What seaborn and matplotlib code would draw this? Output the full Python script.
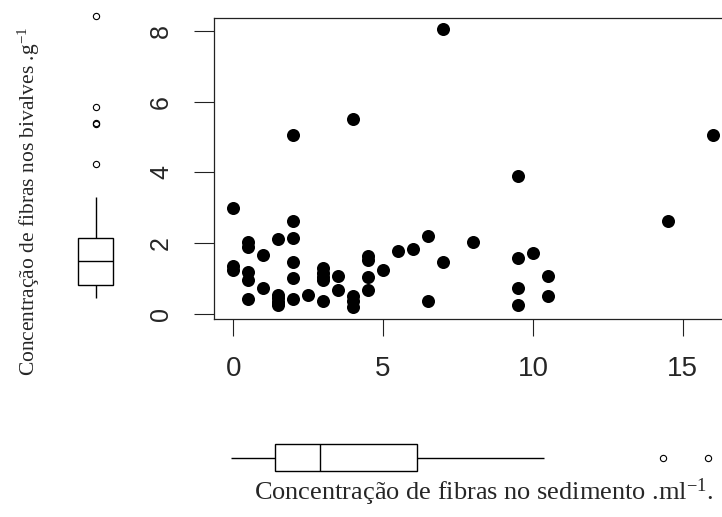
import matplotlib
matplotlib.use("Agg")
import matplotlib.pyplot as plt
import pandas as pd
import seaborn as sns

# Fibre concentration in sediment (per ml) and in bivalves (per g), paired samples
sedimento = [0, 0, 0,
             0.5, 0.5, 0.5, 0.5, 0.5,
             1, 1,
             1.5, 1.5, 1.5, 1.5, 1.5, 1.5,
             2, 2, 2, 2, 2, 2,
             2.5,
             3, 3, 3, 3, 3,
             3.5, 3.5,
             4, 4, 4, 4,
             4.5, 4.5, 4.5, 4.5,
             5, 5.5, 6,
             6.5, 6.5,
             7, 7,
             8,
             9.5, 9.5, 9.5, 9.5,
             10,
             10.5, 10.5,
             14.5, 16]
bivalves = [3.0, 1.35, 1.25,
            2.05, 1.9, 1.2, 0.95, 0.42,
            1.67, 0.75,
            2.12, 0.55, 0.45, 0.35, 0.3, 0.25,
            5.05, 2.62, 2.16, 1.46, 1.02, 0.42,
            0.53,
            1.3, 1.15, 1.05, 0.95, 0.38,
            1.08, 0.68,
            5.5, 0.52, 0.38, 0.19,
            1.65, 1.53, 1.04, 0.68,
            1.25, 1.79, 1.83,
            2.22, 0.38,
            8.05, 1.47,
            2.03,
            3.91, 1.58, 0.74, 0.27,
            1.72,
            1.08, 0.52,
            2.62, 5.06]
x_ticks = [0, 5, 10, 15]
y_ticks = [0, 2, 4, 6, 8]
x_label = r"Concentração de fibras no sedimento .ml$^{-1}$."
y_label = r"Concentração de fibras nos bivalves .g$^{-1}$"

sns.set_style("white")
plt.rcParams.update({
    "font.family": ["Liberation Sans", "DejaVu Sans"],
    "mathtext.default": "regular",
})

df = pd.DataFrame({"sed": sedimento, "biv": bivalves})

W, H = 722, 517
fig = plt.figure(figsize=(W / 100, H / 100), dpi=100)


def rect(left, top, right, bottom):
    return [left / W, 1 - bottom / H, (right - left) / W, (bottom - top) / H]


def padded(values):
    lo, hi = min(values), max(values)
    p = 0.04 * (hi - lo)
    return lo - p, hi + p


# main scatter
ax = fig.add_axes(rect(214, 18, 732, 318.5))
sns.scatterplot(data=df, x="sed", y="biv", color="black", s=88,
                linewidth=0, ax=ax)
ax.set_xlim(padded(sedimento))
ax.set_ylim(padded(bivalves))
ax.set_xticks(x_ticks)
ax.set_yticks(y_ticks)
ax.set_xlabel("")
ax.set_ylabel("")
ax.tick_params(axis="x", bottom=True, length=12.2, width=0.8, pad=15,
               labelsize=20, direction="out", color="#222222")
ax.tick_params(axis="y", left=True, length=14.4, width=0.8, pad=15,
               labelsize=18, labelrotation=90, direction="out",
               color="#222222")
for t in ax.get_yticklabels():
    t.set_va("center")
for s in ax.spines.values():
    s.set_linewidth(0.9)
    s.set_color("#222222")

box_kw = dict(color="white", linecolor="black", linewidth=1.0,
              showcaps=False, fliersize=4.5,
              flierprops=dict(marker="o", markerfacecolor="none",
                              markeredgecolor="black", markeredgewidth=0.8))

# marginal boxplot of the bivalve concentration
axy = fig.add_axes(rect(60, 4.9, 131, 308.9))
sns.boxplot(y=bivalves, ax=axy, width=0.5, **box_kw)
axy.set_xlim(-0.5, 0.5)
axy.set_ylim(padded(bivalves))
axy.axis("off")

# marginal boxplot of the sediment concentration
axx = fig.add_axes(rect(211.6, 430, 726.7, 485))
sns.boxplot(x=sedimento, ax=axx, width=0.49, **box_kw)
axx.set_xlim(padded(sedimento))
axx.set_ylim(0.5, -0.5)
axx.axis("off")

fig.text(483.5 / W, 1 - 500 / H, x_label, ha="center", va="baseline",
         fontsize=19, family="Liberation Serif")
fig.text(29 / W, 1 - 201 / H, y_label, rotation=90, ha="center",
         va="center", fontsize=15.5, family="Liberation Serif")

fig.savefig("out.png", dpi=100)
